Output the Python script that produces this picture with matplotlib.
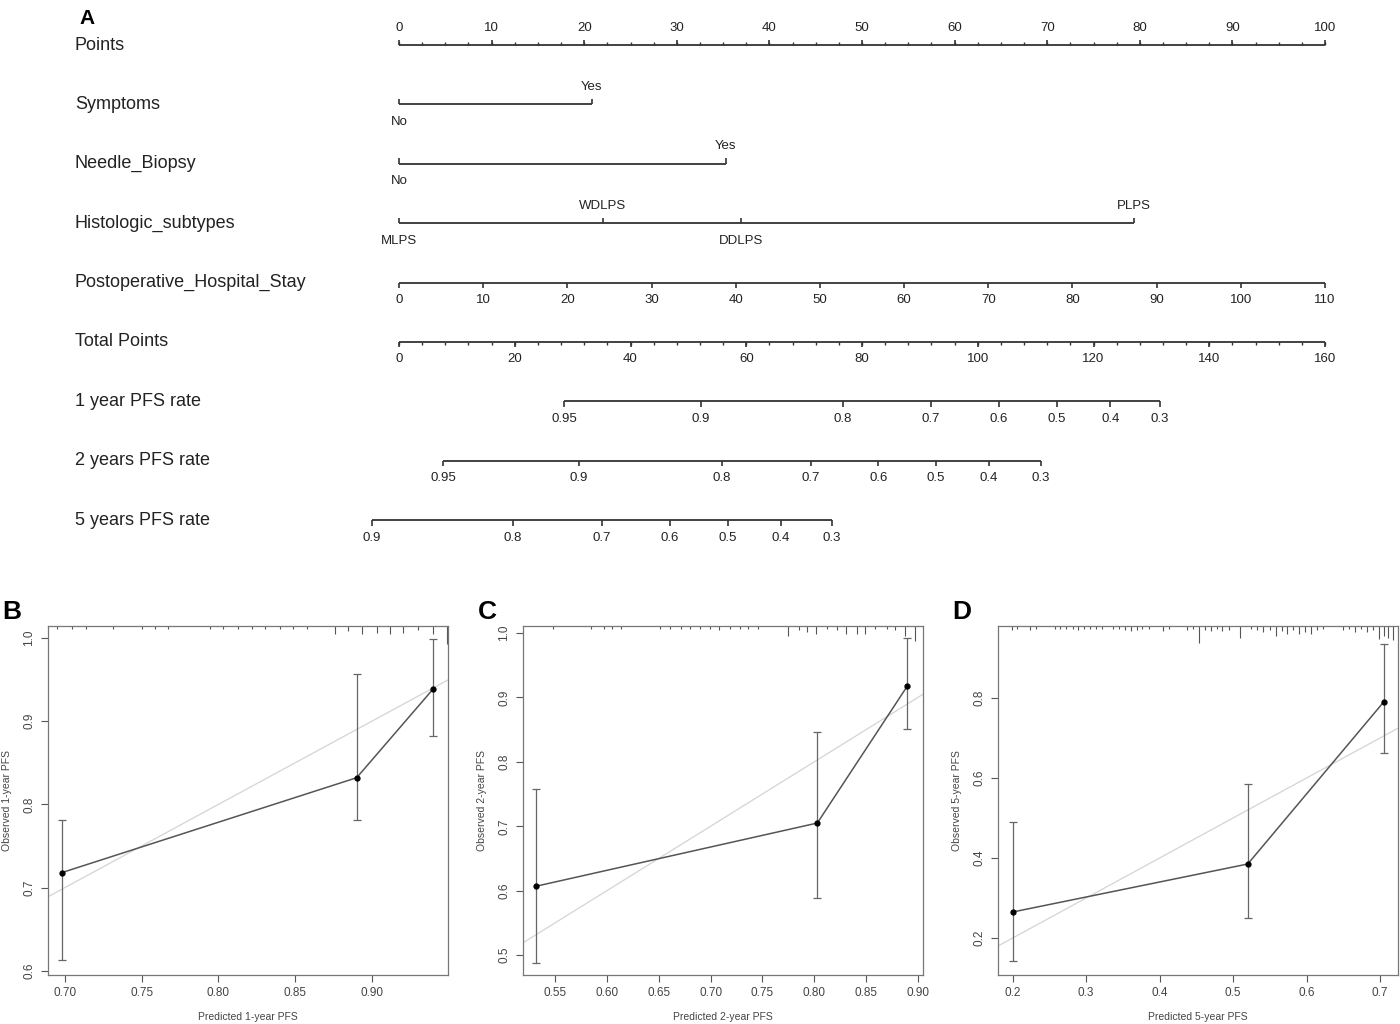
import matplotlib
matplotlib.use("Agg")
import matplotlib.pyplot as plt
import matplotlib.transforms as mtransforms

plt.rcParams["font.family"] = ["Liberation Sans", "DejaVu Sans"]

W, H = 1400, 1024
LINE_C = "#333333"
TXT_C = "#222222"

# ---- nomogram (panel A) ----
ROW_NAMES = ["Points", "Symptoms", "Needle_Biopsy", "Histologic_subtypes",
             "Postoperative_Hospital_Stay", "Total Points",
             "1 year PFS rate", "2 years PFS rate", "5 years PFS rate"]

POINTS_TICKS = [0, 10, 20, 30, 40, 50, 60, 70, 80, 90, 100]
SYMPTOM_LEVELS = ["No", "Yes"]
SYMPTOM_PTS = [0, 20.8]
BIOPSY_LEVELS = ["No", "Yes"]
BIOPSY_PTS = [0, 35.3]
HIST_LEVELS = ["MLPS", "WDLPS", "DDLPS", "PLPS"]
HIST_PTS = [0, 22.0, 36.9, 79.4]
STAY_DAYS = [0, 10, 20, 30, 40, 50, 60, 70, 80, 90, 100, 110]
STAY_MAX = 110
TOTAL_TICKS = [0, 20, 40, 60, 80, 100, 120, 140, 160]
TOTAL_MAX = 160

PFS1_LABELS = ["0.95", "0.9", "0.8", "0.7", "0.6", "0.5", "0.4", "0.3"]
PFS1_TOTAL = [28.5, 52.2, 76.7, 91.9, 103.7, 113.7, 122.9, 131.5]
PFS2_LABELS = ["0.95", "0.9", "0.8", "0.7", "0.6", "0.5", "0.4", "0.3"]
PFS2_TOTAL = [7.6, 31.1, 55.8, 71.2, 82.8, 92.8, 101.9, 110.9]
PFS5_LABELS = ["0.9", "0.8", "0.7", "0.6", "0.5", "0.4", "0.3"]
PFS5_TOTAL = [-4.7, 19.7, 35.1, 46.8, 56.8, 66.0, 74.8]

fig = plt.figure(figsize=(W / 100, H / 100), dpi=100)

top_px, bot_px = 15.3, 549.9
ax = fig.add_axes([399 / W, 1 - bot_px / H, 926 / W, (bot_px - top_px) / H])
ax.set_xlim(0, 100)
ax.set_ylim(8.5, -0.5)
ax.axis("off")

MAJ, MIN = 0.09, 0.05


def tot2pts(t):
    return t * 100.0 / TOTAL_MAX


def draw_row(row, xs, labels, up, label_pos, minor=None):
    ax.plot([min(xs), max(xs)], [row, row], color=LINE_C, lw=1.3,
            solid_capstyle="butt", clip_on=False)
    d = -1 if up else 1
    ax.vlines(xs, row, row + d * MAJ, color=LINE_C, lw=1.2, clip_on=False)
    if minor is not None:
        ax.vlines(minor, row, row + d * MIN, color=LINE_C, lw=1.0, clip_on=False)
    for x, lab, pos in zip(xs, labels, label_pos):
        off = 12.5 if pos == "above" else -12.5
        ax.annotate(lab, (x, row), xytext=(0, off), textcoords="offset points",
                    ha="center", va="center", fontsize=9.5, color=TXT_C,
                    annotation_clip=False)


# Points
pts_minor = [p / 4.0 * 10 for p in range(0, 41)]
draw_row(0, POINTS_TICKS, [str(v) for v in POINTS_TICKS], True,
         ["above"] * len(POINTS_TICKS), minor=pts_minor)
# Categorical rows
draw_row(1, SYMPTOM_PTS, SYMPTOM_LEVELS, True, ["below", "above"])
draw_row(2, BIOPSY_PTS, BIOPSY_LEVELS, True, ["below", "above"])
draw_row(3, HIST_PTS, HIST_LEVELS, True, ["below", "above", "below", "above"])
# Hospital stay
stay_x = [d * 100.0 / STAY_MAX for d in STAY_DAYS]
draw_row(4, stay_x, [str(v) for v in STAY_DAYS], False, ["below"] * len(STAY_DAYS))
# Total points
tot_minor = [tot2pts(v) for v in range(0, 161, 4)]
draw_row(5, [tot2pts(v) for v in TOTAL_TICKS], [str(v) for v in TOTAL_TICKS], False,
         ["below"] * len(TOTAL_TICKS), minor=tot_minor)
# PFS rows
for row, labs, tots in [(6, PFS1_LABELS, PFS1_TOTAL), (7, PFS2_LABELS, PFS2_TOTAL),
                        (8, PFS5_LABELS, PFS5_TOTAL)]:
    draw_row(row, [tot2pts(t) for t in tots], labs, False, ["below"] * len(labs))

lab_tr = mtransforms.blended_transform_factory(fig.transFigure, ax.transData)
for i, name in enumerate(ROW_NAMES):
    ax.text(75 / W, i, name, transform=lab_tr, ha="left", va="center",
            fontsize=13, color=TXT_C)

fig.text(87 / W, 1 - 19 / H, "A", fontsize=15, fontweight="bold", ha="center", va="center")

# ---- calibration curves (panels B, C, D) ----
B_PRED = [0.698, 0.890, 0.940]
B_OBS = [0.718, 0.832, 0.939]
B_LO = [0.613, 0.781, 0.882]
B_HI = [0.781, 0.957, 0.999]
B_RUG = [0.6946, 0.7044, 0.714, 0.7315, 0.75, 0.7586, 0.767, 0.7945, 0.803, 0.813,
         0.8216, 0.830, 0.840, 0.8487, 0.8575, 0.8759, 0.8846, 0.8933, 0.903,
         0.9117, 0.920, 0.930, 0.940, 0.9487]
B_RUG_H = [3, 3, 3, 3, 3, 3, 3, 3, 3, 3, 3, 3, 3, 3, 3, 8, 5, 8, 7, 8, 7, 4, 8, 18]

C_PRED = [0.532, 0.803, 0.890]
C_OBS = [0.607, 0.705, 0.918]
C_LO = [0.487, 0.589, 0.851]
C_HI = [0.758, 0.847, 0.992]
C_RUG = [0.548, 0.585, 0.597, 0.605, 0.614, 0.651, 0.661, 0.671, 0.680, 0.690, 0.699,
         0.708, 0.719, 0.728, 0.736, 0.746, 0.775, 0.785, 0.793, 0.802, 0.812, 0.822,
         0.831, 0.841, 0.849, 0.859, 0.870, 0.878, 0.888, 0.897]
C_RUG_H = [3, 3, 3, 3, 3, 3, 3, 3, 3, 3, 3, 4, 3, 3, 3, 3, 10, 4, 6, 8, 3, 4, 8, 8,
           8, 3, 3, 4, 10, 15]

D_PRED = [0.200, 0.520, 0.705]
D_OBS = [0.265, 0.385, 0.790]
D_LO = [0.143, 0.250, 0.662]
D_HI = [0.490, 0.585, 0.935]
D_RUG = [0.199, 0.206, 0.224, 0.232, 0.258, 0.265, 0.273, 0.282, 0.289, 0.297, 0.305,
         0.313, 0.321, 0.337, 0.345, 0.353, 0.361, 0.369, 0.376, 0.385, 0.405, 0.413,
         0.437, 0.446, 0.454, 0.462, 0.470, 0.478, 0.485, 0.494, 0.509, 0.525, 0.533,
         0.541, 0.550, 0.558, 0.566, 0.574, 0.582, 0.590, 0.598, 0.606, 0.614, 0.623,
         0.650, 0.658, 0.666, 0.674, 0.682, 0.690, 0.698, 0.705, 0.711, 0.718]
D_RUG_H = [4, 3, 4, 3, 3, 3, 3, 3, 4, 3, 3, 3, 3, 3, 3, 4, 5, 4, 3, 3, 5, 3,
           4, 3, 17, 4, 5, 3, 5, 4, 12, 3, 4, 6, 4, 10, 5, 8, 4, 8, 6, 8, 4, 3,
           4, 3, 6, 3, 6, 4, 13, 10, 12, 14]

PANELS = [
    ("B", 48, 448, B_PRED, B_OBS, B_LO, B_HI, B_RUG, B_RUG_H,
     (0.689, 0.9495), (0.595, 1.0143), [0.70, 0.75, 0.80, 0.85, 0.90], "%.2f",
     [0.6, 0.7, 0.8, 0.9, 1.0], "1-year"),
    ("C", 523, 923, C_PRED, C_OBS, C_LO, C_HI, C_RUG, C_RUG_H,
     (0.519, 0.905), (0.469, 1.011), [0.55, 0.60, 0.65, 0.70, 0.75, 0.80, 0.85, 0.90], "%.2f",
     [0.5, 0.6, 0.7, 0.8, 0.9, 1.0], "2-year"),
    ("D", 998, 1398, D_PRED, D_OBS, D_LO, D_HI, D_RUG, D_RUG_H,
     (0.18, 0.7245), (0.1075, 0.98), [0.2, 0.3, 0.4, 0.5, 0.6, 0.7], "%.1f",
     [0.2, 0.4, 0.6, 0.8], "5-year"),
]

P_TOP, P_BOT = 626, 975
for letter, l, r, pred, obs, lo, hi, rug, rug_h, xl, yl, xt, xfmt, yt, lab in PANELS:
    cax = fig.add_axes([l / W, 1 - P_BOT / H, (r - l) / W, (P_BOT - P_TOP) / H])
    cax.set_xlim(*xl)
    cax.set_ylim(*yl)
    cax.plot([0, 1], [0, 1], color="#d4d4d4", lw=0.9, zorder=1)
    yerr = [[o - a for o, a in zip(obs, lo)], [b - o for o, b in zip(obs, hi)]]
    cax.errorbar(pred, obs, yerr=yerr, fmt="none", ecolor="#666666", elinewidth=0.9,
                 capsize=3, capthick=0.9, zorder=2)
    cax.plot(pred, obs, color="#555555", lw=1.1, zorder=3)
    cax.plot(pred, obs, "o", color="black", ms=3.5, zorder=4)
    ph = P_BOT - P_TOP
    cax.vlines(rug, [1 - h / ph for h in rug_h], 1, color="#555555", lw=0.8,
               transform=cax.get_xaxis_transform())
    cax.set_xticks(xt)
    cax.set_xticklabels([xfmt % v for v in xt])
    cax.set_yticks(yt)
    cax.set_yticklabels(["%.1f" % v for v in yt], rotation=90, va="center")
    cax.tick_params(axis="both", labelsize=8.5, colors="#555555", length=5, width=0.8,
                    pad=4, labelcolor="#444444")
    for s in cax.spines.values():
        s.set_color("#777777")
        s.set_linewidth(0.9)
    cax.set_xlabel("Predicted %s PFS" % lab, fontsize=7.5, color="#444444", labelpad=9)
    cax.set_ylabel("Observed %s PFS" % lab, fontsize=7.5, color="#444444", labelpad=8)
    fig.text((l - 36) / W, 1 - 612 / H, letter, fontsize=19, fontweight="bold",
             ha="center", va="center")

plt.savefig("out.png", dpi=100)
plt.close()
print("[OK] out.png")
